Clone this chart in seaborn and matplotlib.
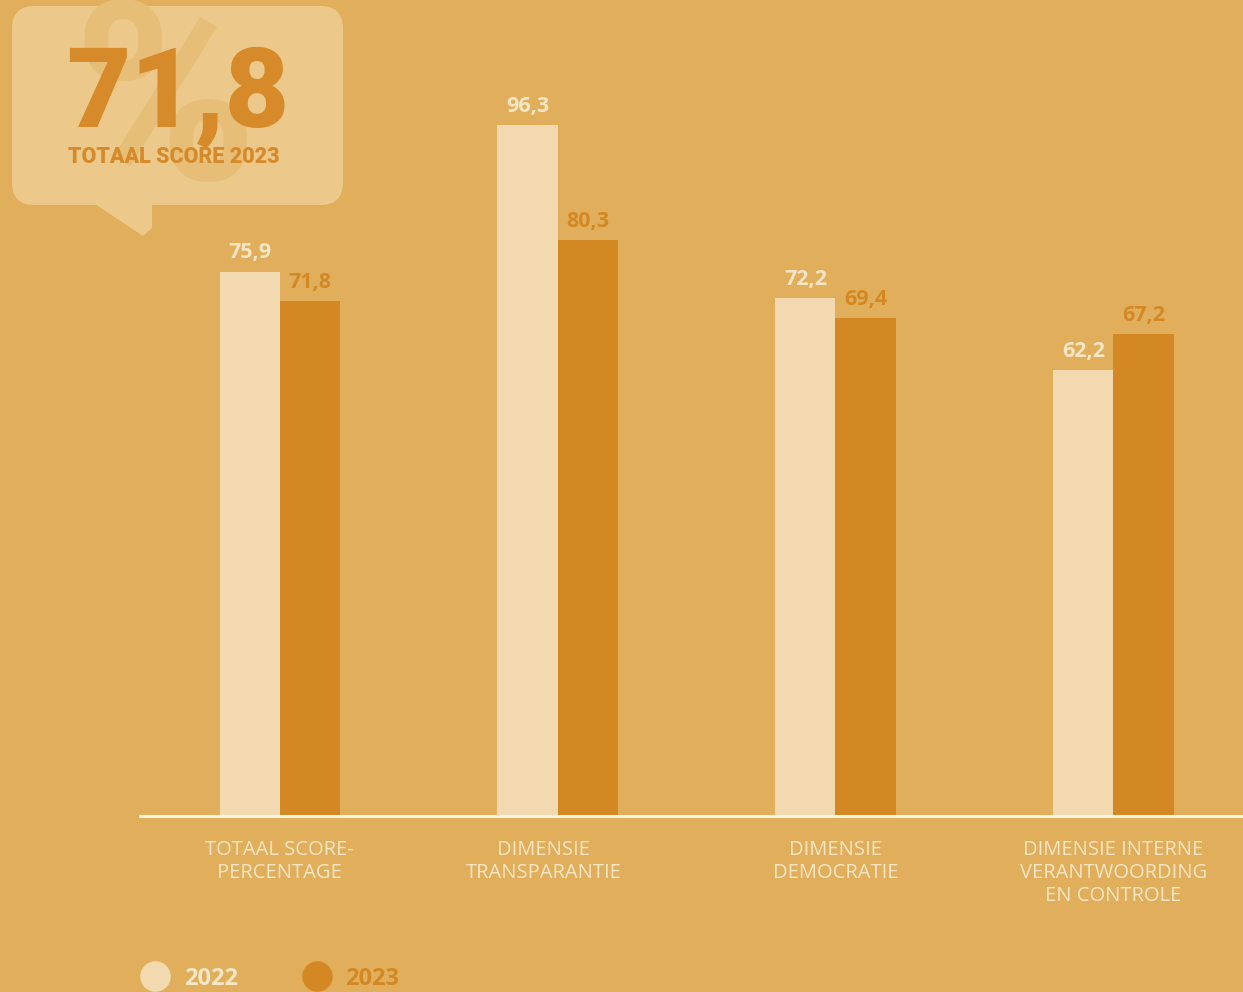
import matplotlib
matplotlib.use("Agg")
import matplotlib.pyplot as plt
import matplotlib.transforms as mtransforms
import seaborn as sns
import pandas as pd
from matplotlib.patches import FancyBboxPatch, Polygon
from matplotlib.lines import Line2D

categories = ["TOTAAL SCORE-\nPERCENTAGE", "DIMENSIE\nTRANSPARANTIE",
              "DIMENSIE\nDEMOCRATIE", "DIMENSIE INTERNE\nVERANTWOORDING\nEN CONTROLE"]
years = ["2022", "2023"]
values_2022 = [75.9, 96.3, 72.2, 62.2]
values_2023 = [71.8, 80.3, 69.4, 67.2]
headline_value = "71,8"
headline_label = "TOTAAL SCORE 2023"

BG = "#E1AF5B"
LIGHT = "#F2D9B0"
DARK = "#D48824"
CREAM = "#F7E6C6"
BOX = "#ECC98A"

sns.set_theme(style="white")
plt.rcParams['font.family'] = ['Roboto', 'DejaVu Sans']

df = pd.DataFrame({
    "category": categories * 2,
    "year": [years[0]] * 4 + [years[1]] * 4,
    "value": values_2022 + values_2023,
})

fig = plt.figure(figsize=(12.43, 9.92), dpi=100)
fig.patch.set_facecolor(BG)
ax = fig.add_axes([140 / 1243, 176 / 992, 1103 / 1243, 816 / 992])
ax.set_facecolor(BG)

sns.barplot(data=df, x="category", y="value", hue="year",
            palette={years[0]: LIGHT, years[1]: DARK},
            width=0.432, gap=0, ax=ax, legend=False, saturation=1,
            edgecolor="none", linewidth=0)

ax.set_xlim(-0.502, 3.466)
ax.set_ylim(0, 113.8)

label_colors = [CREAM, DARK]
vals = [values_2022, values_2023]
for cont, col, v in zip(ax.containers, label_colors, vals):
    ax.bar_label(cont, labels=[f"{x:.1f}".replace(".", ",") for x in v],
                 padding=6, color=col, fontsize=15.5, fontweight="bold",
                 family=["Open Sans", "DejaVu Sans"])

for s in ["top", "left", "right"]:
    ax.spines[s].set_visible(False)
ax.spines["bottom"].set_color("#FBF1DC")
ax.spines["bottom"].set_linewidth(2.2)
ax.set_yticks([])
ax.set_xlabel("")
ax.set_ylabel("")
ax.tick_params(axis="x", length=0, pad=17)
for i, t in enumerate(ax.get_xticklabels()):
    t.set_color(CREAM)
    t.set_fontsize(14.5)
    t.set_family(["Open Sans", "DejaVu Sans"])
    t.set_linespacing(1.2)
    if i == 1:
        t.set_transform(t.get_transform() +
                        mtransforms.ScaledTranslation(-0.14, 0, fig.dpi_scale_trans))

# legend
handles = [Line2D([0], [0], marker="o", linestyle="none", markersize=22,
                  markerfacecolor=c, markeredgecolor="none") for c in [LIGHT, DARK]]
leg = fig.legend(handles, years, loc="lower left", bbox_to_anchor=(0.089, -0.02),
                 ncol=2, frameon=False, handletextpad=0.2, columnspacing=2.35,
                 prop={"family": "Open Sans", "weight": "bold", "size": 17})
for t, c in zip(leg.get_texts(), [CREAM, DARK]):
    t.set_color(c)

# callout box
W, H = 1243, 992
def fx(px):
    return px / W
def fy(py):
    return 1 - py / H

box = FancyBboxPatch((fx(12), fy(205)), fx(343) - fx(12), fy(6) - fy(205),
                     boxstyle="round,pad=0,rounding_size=0.018",
                     transform=fig.transFigure, facecolor=BOX, edgecolor="none",
                     mutation_aspect=W / H, zorder=1)
fig.patches.append(box)
tail = Polygon([(fx(95), fy(204)), (fx(152), fy(204)), (fx(152), fy(228)),
                (fx(143), fy(236)), (fx(128), fy(226))],
               closed=True, transform=fig.transFigure, facecolor=BOX,
               edgecolor="none", zorder=1)
fig.patches.append(tail)

pct = fig.text(fx(165), fy(112), "%", ha="center", va="center", fontsize=180,
               fontweight="bold", color="#E7BE77", zorder=2,
               family=["Roboto", "DejaVu Sans"])
pct.set_clip_path(box)

fig.text(fx(178), fy(127), headline_value, ha="center", va="baseline",
         fontsize=80, fontweight="black", color="#D68A2A", zorder=3,
         family=["Roboto", "DejaVu Sans"])
fig.text(fx(174), fy(163), headline_label, ha="center", va="baseline",
         fontsize=15.5, fontweight="black", color="#D68A2A", zorder=3,
         family=["Roboto", "DejaVu Sans"])

fig.savefig("out.png", dpi=100, facecolor=BG)
